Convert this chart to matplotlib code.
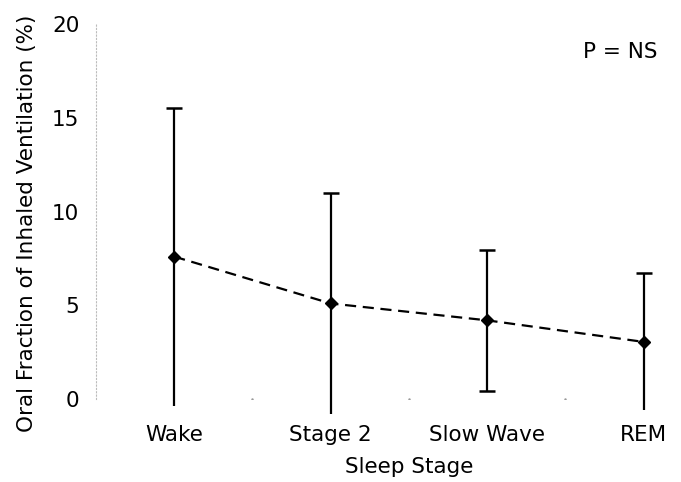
import numpy as np
import matplotlib
matplotlib.use("Agg")
import matplotlib.pyplot as plt

plt.rcParams['font.family'] = ['DejaVu Sans']

# data
stages = ["Wake", "Stage 2", "Slow Wave", "REM"]
means = [7.6, 5.1, 4.2, 3.05]
sds = [7.95, 5.9, 3.75, 3.65]

FS = 15.5

fig = plt.figure(figsize=(6.81, 4.82), dpi=100)
ax = fig.add_axes([0.141, 0.172, 0.919, 0.778])

x = np.arange(len(stages))
means_a = np.array(means)
sds_a = np.array(sds)

# error bars (Excel-style: lower cap hidden when it goes below zero)
ax.errorbar(x, means_a, yerr=sds_a, fmt='none', ecolor='black',
            elinewidth=1.6, capsize=0, clip_on=False, zorder=2)
upper = means_a + sds_a
lower = means_a - sds_a
ax.plot(x, upper, linestyle='none', marker='_', markersize=11,
        markeredgewidth=1.8, color='black', clip_on=False)
pos = lower > 0
ax.plot(x[pos], lower[pos], linestyle='none', marker='_', markersize=11,
        markeredgewidth=1.8, color='black', clip_on=False)

ax.plot(x, means_a, linestyle=(0, (5, 3)), color='black', linewidth=1.6,
        marker='D', markersize=6, zorder=3)

ax.set_xlim(-0.5, 3.5)
ax.set_ylim(0, 20)
ax.set_yticks([0, 5, 10, 15, 20])
ax.set_xticks(x)
ax.set_xticklabels(stages)
ax.tick_params(axis='both', length=0, labelsize=FS)
ax.tick_params(axis='y', pad=12)
ax.tick_params(axis='x', pad=19)

for s in ['top', 'right', 'bottom']:
    ax.spines[s].set_visible(False)
ax.spines['left'].set_linestyle((0, (1, 2)))
ax.spines['left'].set_color('#bbbbbb')
ax.spines['left'].set_linewidth(0.8)

# faint marks between categories on the baseline
ax.plot([0.5, 1.5, 2.5], [0, 0, 0], linestyle='none', marker='.',
        markersize=1.5, color='#999999')

ax.set_ylabel("Oral Fraction of Inhaled Ventilation (%)", fontsize=FS)
ax.yaxis.set_label_coords(-0.095, 0.47)
ax.set_xlabel("Sleep Stage", fontsize=FS, labelpad=8)

fig.text(0.966, 0.892, "P = NS", fontsize=FS, ha='right', va='center')

fig.savefig("out.png", dpi=100)
